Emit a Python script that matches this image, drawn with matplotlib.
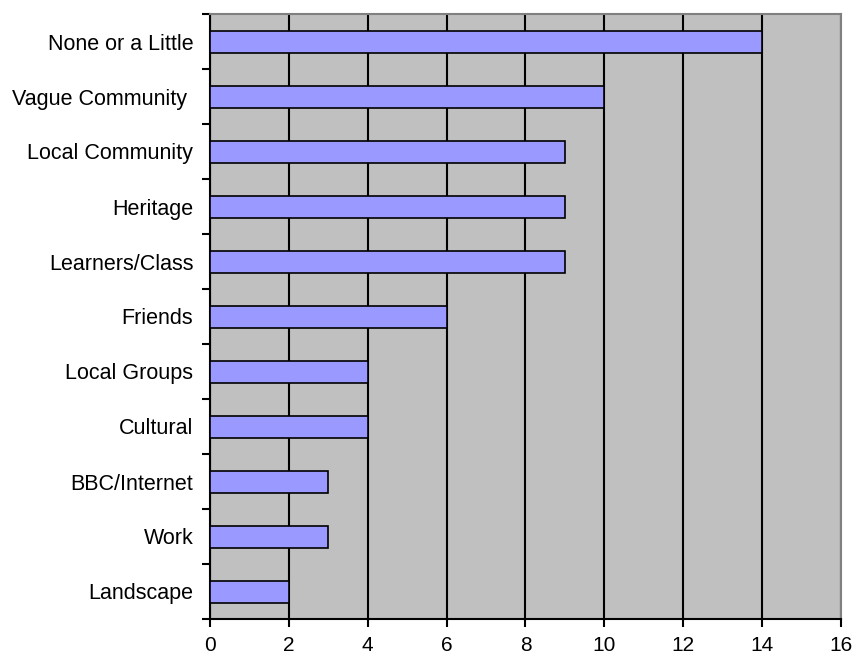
import matplotlib
matplotlib.use("Agg")
import matplotlib.pyplot as plt
import numpy as np

categories = ["None or a Little", "Vague Community ", "Local Community", "Heritage",
              "Learners/Class", "Friends", "Local Groups", "Cultural",
              "BBC/Internet", "Work", "Landscape"]
values = [14, 10, 9, 9, 9, 6, 4, 4, 3, 3, 2]
xticks = [0, 2, 4, 6, 8, 10, 12, 14, 16]

plt.rcParams['font.family'] = ['Liberation Sans', 'DejaVu Sans']

fig = plt.figure(figsize=(8.53, 6.57), dpi=100)
ax = fig.add_axes([210/853, 38/657, 631/853, 605/657])
ax.set_facecolor('#C0C0C0')

n = len(categories)
ypos = np.arange(n)
ax.barh(ypos, values, height=0.4, color='#9999FF', edgecolor='black', linewidth=1.2, zorder=3)

ax.set_xlim(0, 16)
ax.set_ylim(n - 0.5, -0.5)
ax.set_xticks(xticks)
ax.set_xticklabels([str(t) for t in xticks], fontsize=15)
ax.xaxis.grid(True, color='black', linewidth=1.5, zorder=1)
ax.set_axisbelow(True)

ax.set_yticks(ypos)
ax.set_yticklabels(categories, fontsize=15.5)
ax.set_yticks(np.arange(-0.5, n, 1), minor=True)
ax.tick_params(axis='y', which='major', length=0, pad=12)
ax.tick_params(axis='y', which='minor', length=6, width=1.5, direction='out', color='black')
ax.tick_params(axis='x', which='major', length=6, width=1.5, direction='out', pad=6.5)

for s in ['left', 'bottom']:
    ax.spines[s].set_color('black')
    ax.spines[s].set_linewidth(1.5)
for s in ['top', 'right']:
    ax.spines[s].set_color('#808080')
    ax.spines[s].set_linewidth(1.5)

fig.savefig("out.png", dpi=100)
